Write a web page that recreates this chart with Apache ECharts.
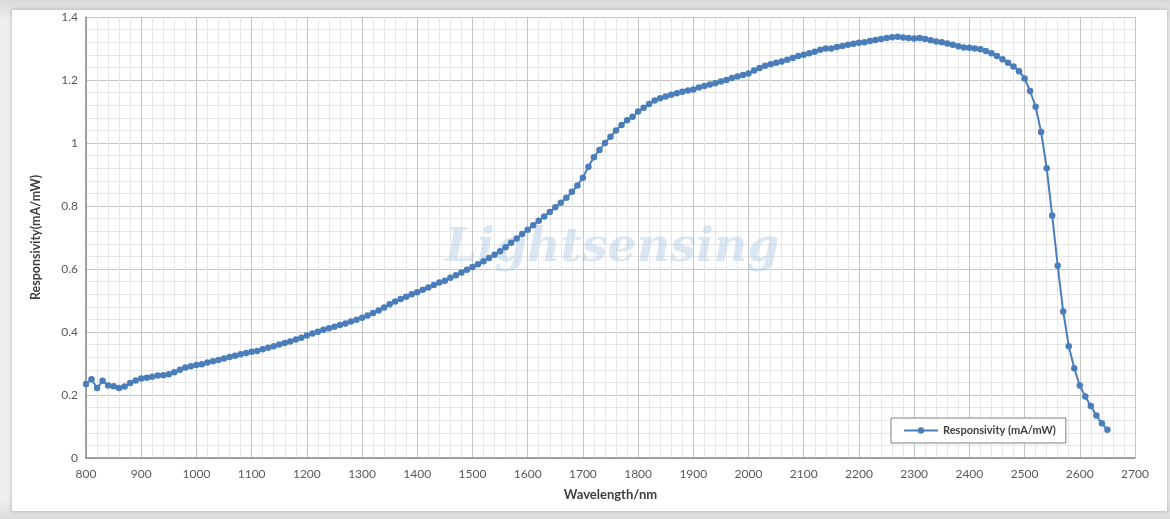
<!DOCTYPE html>
<html>
<head>
<meta charset="utf-8">
<script src="https://cdn.jsdelivr.net/npm/echarts@6/dist/echarts.min.js"></script>
<style>
  html, body { margin: 0; padding: 0; width: 1170px; height: 519px; overflow: hidden;
    background: linear-gradient(#d9d9d9, #efefef 4%, #efefef 96%, #dcdcdc); }
  #panel { position: absolute; left: 12px; top: 10px; width: 1155px; height: 501px;
    background: #ffffff; box-shadow: 0 0 3px 1px rgba(0,0,0,0.18); }
  #chart { position: absolute; left: 0; top: 0; width: 1170px; height: 519px; }
</style>
</head>
<body>
<div id="panel"></div>
<div id="chart"></div>
<script>
// Wavelength (nm)
const wavelengths = [
  800, 810, 820, 830, 840, 850, 860, 870, 880, 890,
  900, 910, 920, 930, 940, 950, 960, 970, 980, 990,
  1000, 1010, 1020, 1030, 1040, 1050, 1060, 1070, 1080, 1090,
  1100, 1110, 1120, 1130, 1140, 1150, 1160, 1170, 1180, 1190,
  1200, 1210, 1220, 1230, 1240, 1250, 1260, 1270, 1280, 1290,
  1300, 1310, 1320, 1330, 1340, 1350, 1360, 1370, 1380, 1390,
  1400, 1410, 1420, 1430, 1440, 1450, 1460, 1470, 1480, 1490,
  1500, 1510, 1520, 1530, 1540, 1550, 1560, 1570, 1580, 1590,
  1600, 1610, 1620, 1630, 1640, 1650, 1660, 1670, 1680, 1690,
  1700, 1710, 1720, 1730, 1740, 1750, 1760, 1770, 1780, 1790,
  1800, 1810, 1820, 1830, 1840, 1850, 1860, 1870, 1880, 1890,
  1900, 1910, 1920, 1930, 1940, 1950, 1960, 1970, 1980, 1990,
  2000, 2010, 2020, 2030, 2040, 2050, 2060, 2070, 2080, 2090,
  2100, 2110, 2120, 2130, 2140, 2150, 2160, 2170, 2180, 2190,
  2200, 2210, 2220, 2230, 2240, 2250, 2260, 2270, 2280, 2290,
  2300, 2310, 2320, 2330, 2340, 2350, 2360, 2370, 2380, 2390,
  2400, 2410, 2420, 2430, 2440, 2450, 2460, 2470, 2480, 2490,
  2500, 2510, 2520, 2530, 2540, 2550, 2560, 2570, 2580, 2590,
  2600, 2610, 2620, 2630, 2640, 2650
];
// Responsivity (mA/mW)
const responsivity = [
  0.235, 0.250, 0.222, 0.245, 0.230, 0.228, 0.222, 0.227, 0.238, 0.246,
  0.252, 0.255, 0.258, 0.262, 0.263, 0.266, 0.272, 0.280, 0.287, 0.291,
  0.295, 0.298, 0.303, 0.307, 0.311, 0.316, 0.321, 0.325, 0.329, 0.333,
  0.337, 0.340, 0.345, 0.350, 0.355, 0.360, 0.365, 0.370, 0.376, 0.382,
  0.389, 0.395, 0.401, 0.407, 0.412, 0.417, 0.422, 0.427, 0.433, 0.439,
  0.445, 0.452, 0.460, 0.468, 0.478, 0.488, 0.497, 0.505, 0.512, 0.520,
  0.526, 0.534, 0.541, 0.549, 0.557, 0.563, 0.572, 0.580, 0.589, 0.598,
  0.606, 0.615, 0.625, 0.635, 0.645, 0.656, 0.669, 0.683, 0.697, 0.711,
  0.725, 0.739, 0.753, 0.767, 0.781, 0.796, 0.810, 0.826, 0.845, 0.865,
  0.890, 0.925, 0.955, 0.978, 1.000, 1.020, 1.040, 1.057, 1.072, 1.083,
  1.100, 1.112, 1.124, 1.135, 1.142, 1.148, 1.153, 1.158, 1.163, 1.167,
  1.170, 1.176, 1.181, 1.186, 1.190, 1.195, 1.200, 1.206, 1.211, 1.216,
  1.221, 1.230, 1.238, 1.245, 1.250, 1.255, 1.259, 1.264, 1.270, 1.276,
  1.280, 1.285, 1.290, 1.296, 1.300, 1.300, 1.305, 1.308, 1.312, 1.315,
  1.318, 1.320, 1.324, 1.327, 1.330, 1.333, 1.336, 1.337, 1.335, 1.333,
  1.332, 1.333, 1.330, 1.326, 1.322, 1.320, 1.316, 1.312, 1.307, 1.303,
  1.302, 1.300, 1.298, 1.292, 1.285, 1.276, 1.266, 1.255, 1.243, 1.228,
  1.205, 1.165, 1.115, 1.035, 0.920, 0.770, 0.610, 0.465, 0.355, 0.285,
  0.230, 0.195, 0.165, 0.135, 0.110, 0.090
];
const seriesName = 'Responsivity (mA/mW)';
const xAxisTitle = 'Wavelength/nm';
const yAxisTitle = 'Responsivity(mA/mW)';
const watermark = 'Lightsensing';

const points = wavelengths.map((w, i) => [w, responsivity[i]]);
const font = 'Lato, "Open Sans", sans-serif';

const chart = echarts.init(document.getElementById('chart'), null, { renderer: 'canvas' });
chart.setOption({
  backgroundColor: 'transparent',
  animation: false,
  grid: { left: 86, right: 35, top: 17, bottom: 61, containLabel: false },
  xAxis: {
    type: 'value', min: 800, max: 2700, interval: 100,
    name: xAxisTitle, nameLocation: 'middle', nameGap: 30,
    nameTextStyle: { fontFamily: font, fontWeight: 'bold', fontSize: 13, color: '#404040' },
    axisLine: { show: true, lineStyle: { color: '#8a8a8a', width: 1.5 } },
    axisTick: { show: false },
    axisLabel: { fontFamily: font, fontSize: 12, color: '#595959', margin: 10,
      formatter: v => String(v) },
    splitLine: { show: true, lineStyle: { color: '#c4c4c4', width: 1 } },
    minorTick: { show: false, splitNumber: 5 },
    minorSplitLine: { show: true, lineStyle: { color: '#e6e6e6', width: 1 } }
  },
  yAxis: {
    type: 'value', min: 0, max: 1.4, interval: 0.2,
    name: yAxisTitle, nameLocation: 'middle', nameGap: 44, nameRotate: 90,
    nameTextStyle: { fontFamily: font, fontWeight: 'bold', fontSize: 12.5, color: '#404040' },
    axisLine: { show: true, lineStyle: { color: '#8a8a8a', width: 1.5 } },
    axisTick: { show: false },
    axisLabel: { fontFamily: font, fontSize: 12, color: '#595959', margin: 8,
      formatter: v => String(Math.round(v * 10) / 10) },
    splitLine: { show: true, lineStyle: { color: '#c4c4c4', width: 1 } },
    minorTick: { show: false, splitNumber: 5 },
    minorSplitLine: { show: true, lineStyle: { color: '#e6e6e6', width: 1 } }
  },
  legend: {
    left: 891, top: 418, width: 190,
    data: [seriesName],
    backgroundColor: '#ffffff',
    borderColor: '#7f7f7f', borderWidth: 1,
    padding: [7, 10, 7, 12],
    itemWidth: 34, itemHeight: 8,
    textStyle: { fontFamily: font, fontWeight: 'bold', fontSize: 11, color: '#404040' }
  },
  graphic: [{
    type: 'text', left: 445, top: 226, z: 1, silent: true,
    style: {
      text: watermark,
      font: 'italic bold 46px "DejaVu Serif", "Liberation Serif", serif',
      fill: 'rgba(175,205,228,0.45)'
    }
  }],
  series: [{
    name: seriesName,
    type: 'line',
    data: points,
    smooth: false,
    symbol: 'circle',
    symbolSize: 6.5,
    showSymbol: true,
    z: 3,
    itemStyle: { color: '#4a7ebb' },
    lineStyle: { color: '#4a7ebb', width: 2 }
  }]
});
</script>
</body>
</html>
